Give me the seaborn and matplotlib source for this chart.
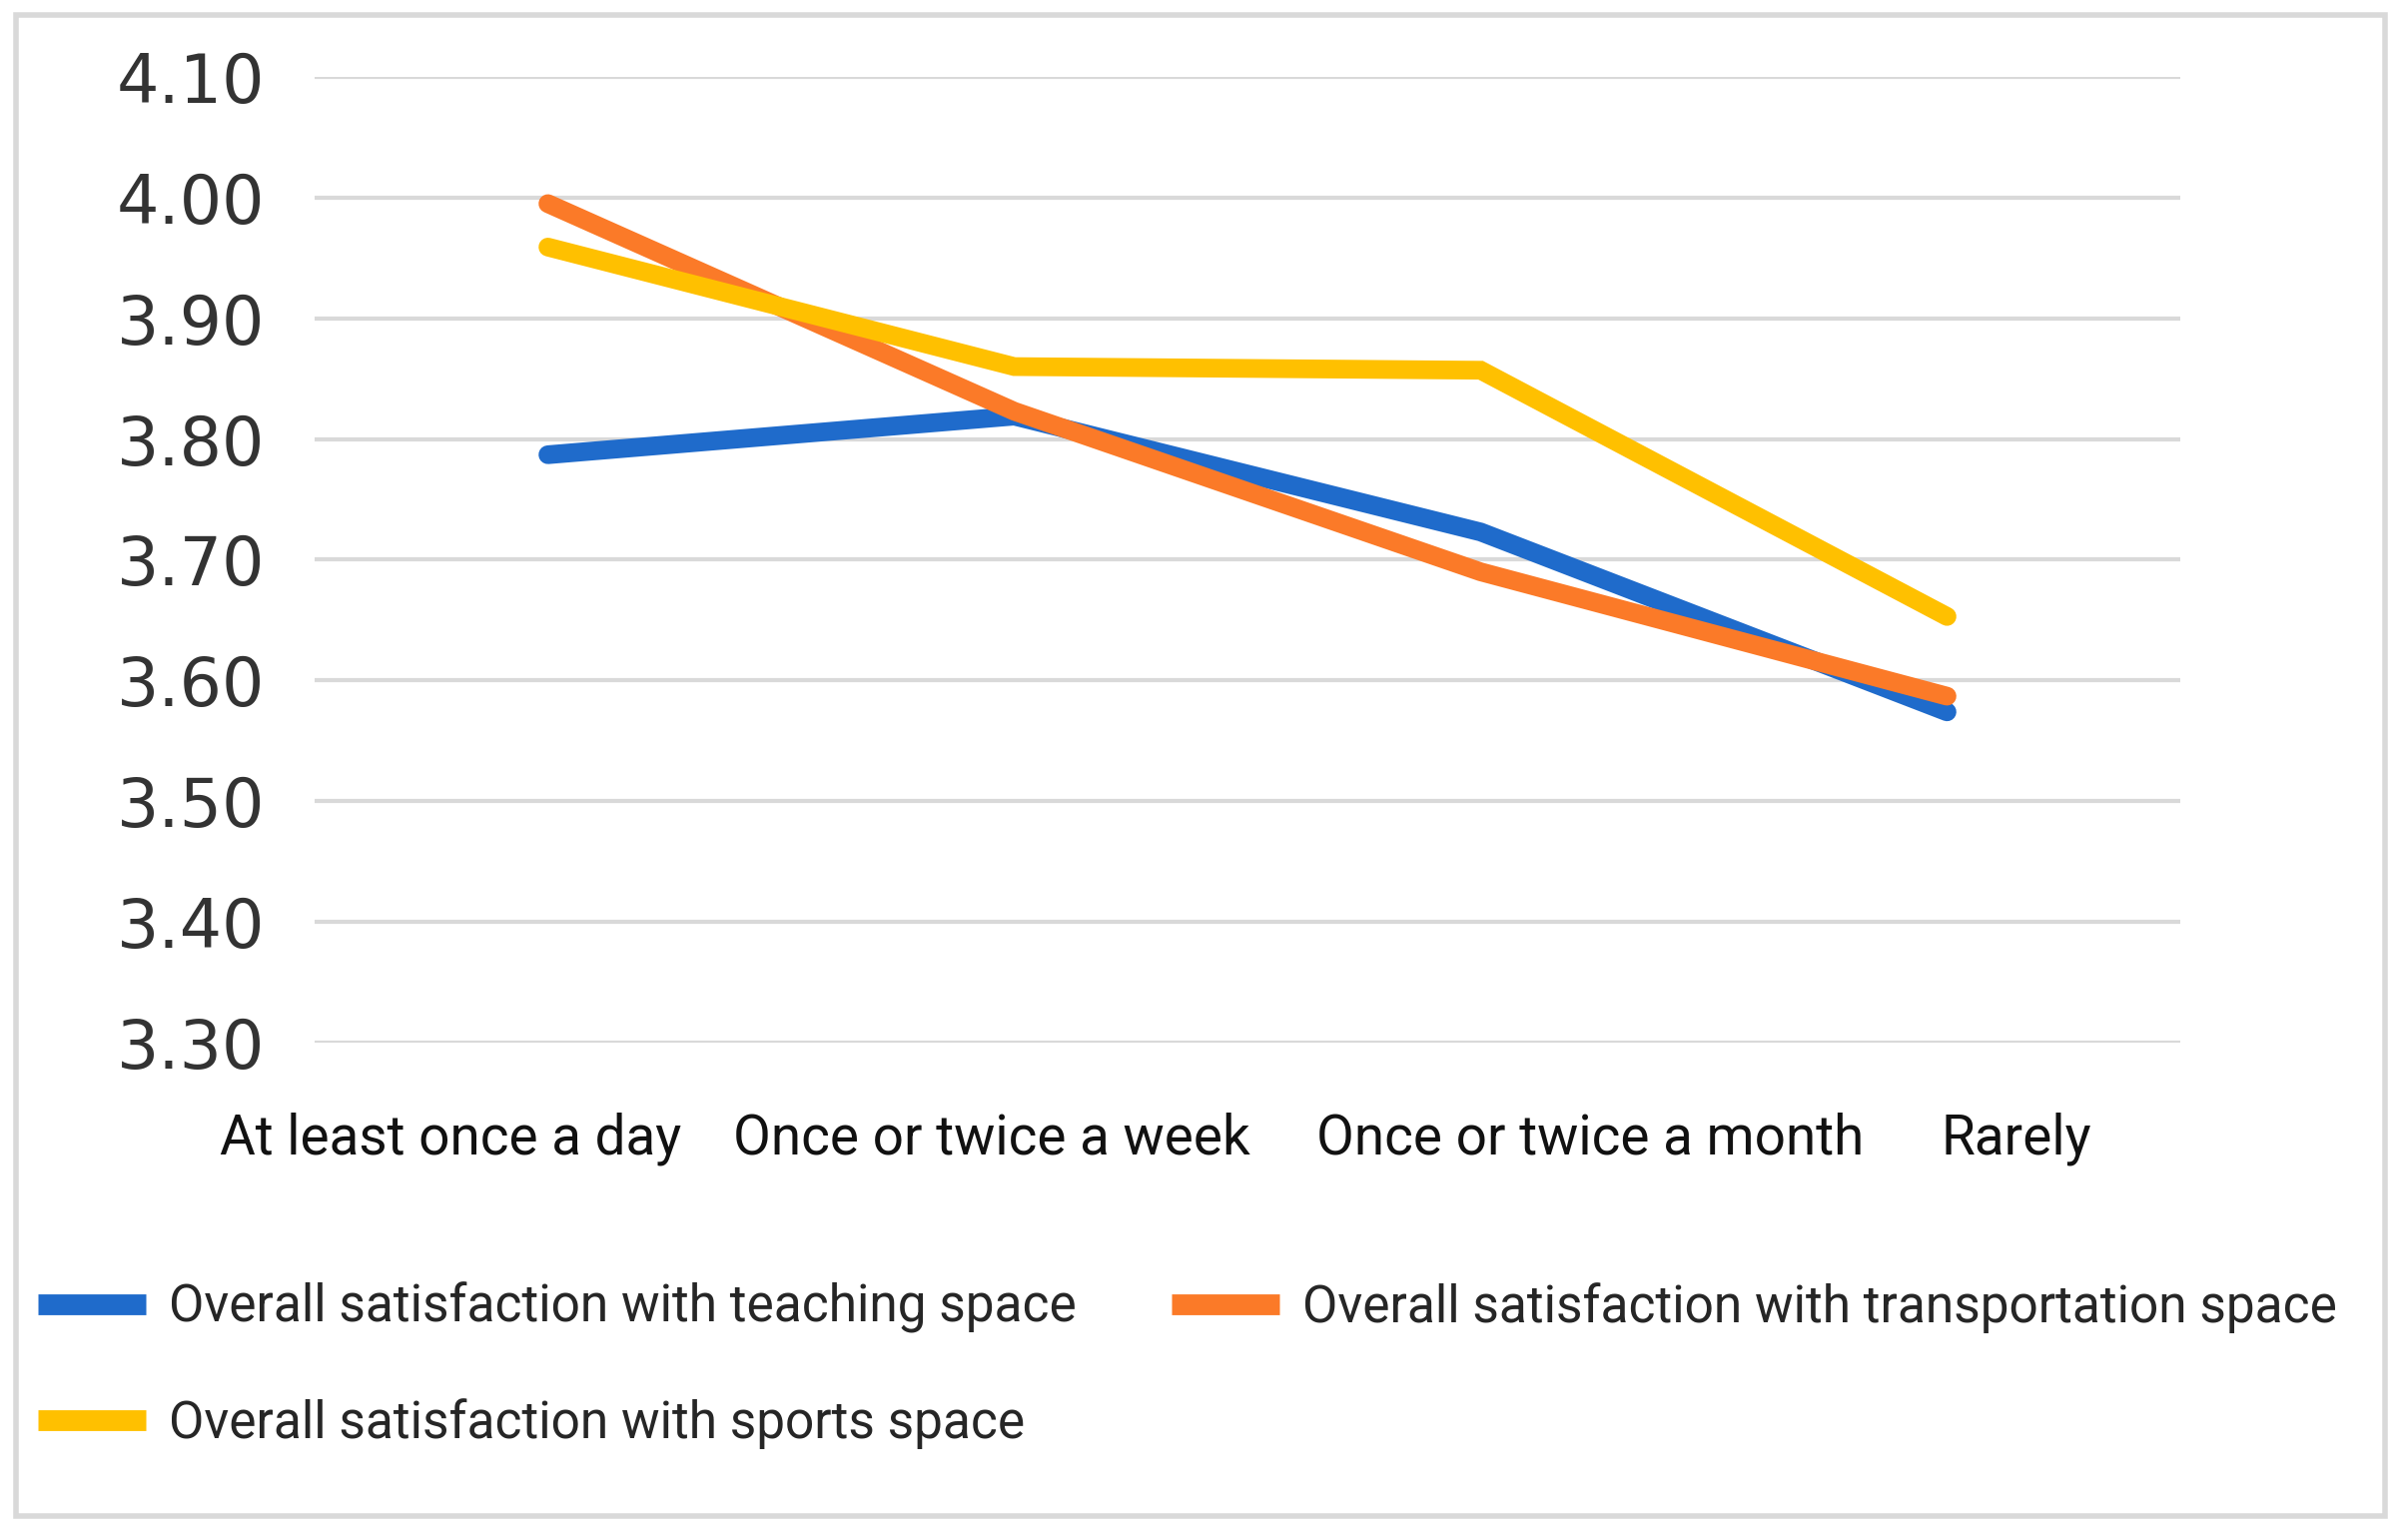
import pandas as pd
import matplotlib.pyplot as plt
import matplotlib.transforms as mtransforms
from matplotlib.patches import Rectangle
import seaborn as sns

# Daten
frequency = ["At least once a day", "Once or twice a week", "Once or twice a month", "Rarely"]
teaching = [3.787, 3.819, 3.723, 3.574]
transportation = [3.995, 3.823, 3.690, 3.587]
sports = [3.959, 3.860, 3.857, 3.653]
series_names = [
    "Overall satisfaction with teaching space",
    "Overall satisfaction with transportation space",
    "Overall satisfaction with sports space",
]
y_ticks = [3.30, 3.40, 3.50, 3.60, 3.70, 3.80, 3.90, 4.00, 4.10]

colors = ["#1F6BCB", "#FB7A28", "#FFC000"]

df = pd.DataFrame({
    "freq": frequency * 3,
    "x": list(range(len(frequency))) * 3,
    "value": teaching + transportation + sports,
    "series": [s for s in series_names for _ in frequency],
})

sns.set_style("white")
narrow = ["Roboto", "DejaVu Sans"]

fig = plt.figure(figsize=(24.11, 15.36), dpi=100)
ax = fig.add_axes([0.1307, 0.3203, 0.7747, 0.6296])

sns.lineplot(data=df, x="x", y="value", hue="series", palette=colors,
             linewidth=13.5, ax=ax, legend=False, sort=False)
for ln in ax.lines:
    ln.set_solid_capstyle("round")
    ln.set_solid_joinstyle("miter")
    ln.set_clip_on(False)

ax.set_xlim(-0.5, len(frequency) - 0.5)
ax.set_ylim(3.30, 4.10)
ax.set_yticks(y_ticks)
ax.set_yticklabels([f"{v:.2f}" for v in y_ticks], fontsize=48, color="#333333",
                   family="DejaVu Sans")
ax.yaxis.grid(True, color="#D9D9D9", linewidth=3)
ax.set_axisbelow(True)
ax.tick_params(axis="y", length=0, pad=36)
ax.tick_params(axis="x", length=0, pad=50)

ax.set_xticks(range(len(frequency)))
ax.set_xticklabels(frequency, fontsize=39.5, family=narrow, color="#111111")
# category labels sit a bit off the points in the original
shifts = [-97, -23, 110, 69]
for lab, dx in zip(ax.get_xticklabels(), shifts):
    lab.set_transform(lab.get_transform() +
                      mtransforms.ScaledTranslation(dx / 100, 0, fig.dpi_scale_trans))

ax.set_xlabel("")
ax.set_ylabel("")
sns.despine(ax=ax, left=True, bottom=True, top=True, right=True)

# Legende (zeilenweise wie im Original)
handles = [plt.Line2D([], [], color=c, linewidth=15, solid_capstyle="butt") for c in colors]
order = [0, 2, 1]
fig.legend([handles[i] for i in order], [series_names[i] for i in order],
           ncol=2, loc="upper left", bbox_to_anchor=(0.0158, 0.164),
           frameon=False, borderpad=0, borderaxespad=0,
           prop={"family": narrow, "size": 37},
           handlelength=2.1, handletextpad=0.45, columnspacing=1.85,
           labelspacing=1.25)

# Rahmen
fig.patches.append(Rectangle((0.0065, 0.012), 0.984, 0.978, transform=fig.transFigure,
                             fill=False, edgecolor="#D9D9D9", linewidth=4))

fig.savefig("out.png", dpi=100)
